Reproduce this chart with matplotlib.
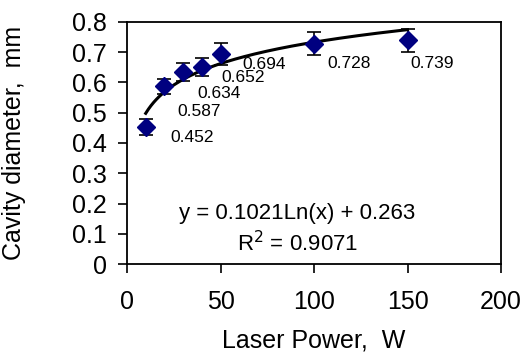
import matplotlib.pyplot as plt
import numpy as np

plt.rcParams['font.family'] = ['Liberation Sans', 'DejaVu Sans']

# Laser power (W)
power = [10, 20, 30, 40, 50, 100, 150]
# Cavity diameter (mm)
diameter = [0.452, 0.587, 0.634, 0.652, 0.694, 0.728, 0.739]
# error bar half-heights (mm)
err = [0.026, 0.026, 0.03, 0.03, 0.035, 0.038, 0.038]
labels = ['0.452', '0.587', '0.634', '0.652', '0.694', '0.728', '0.739']
# label offsets in pixels (dx, dy)
offsets = [(25, -10), (13, -25), (14, -21), (20, -11), (22, -10), (13, -20), (3, -23)]

# log trendline coefficients as printed on the chart
a = 0.1021
b = 0.263

fig = plt.figure(figsize=(5.24, 3.54), dpi=100)
ax = fig.add_axes([0.2424, 0.2542, 0.7137, 0.6837])

xf = np.linspace(power[0], power[-1], 200)
ax.plot(xf, a*np.log(xf) + b, color='black', lw=2.2, zorder=2)

ax.errorbar(power, diameter, yerr=err, fmt='D', color='#000080', ms=9.5,
            ecolor='black', elinewidth=1.2, capsize=5, capthick=1.2, zorder=3)

for x, y, s, (dx, dy) in zip(power, diameter, labels, offsets):
    ax.annotate(s, (x, y), xytext=(dx, dy), textcoords='offset pixels',
                fontsize=12.5, va='center', ha='left')

ax.text(0.455, 0.21, 'y = 0.1021Ln(x) + 0.263', transform=ax.transAxes,
        fontsize=16, ha='center', va='center')
ax.text(0.455, 0.085, r'R$^2$ = 0.9071', transform=ax.transAxes,
        fontsize=16, ha='center', va='center')

ax.set_xlim(0, 200)
ax.set_ylim(0, 0.8)
ax.set_xticks([0, 50, 100, 150, 200])
ax.set_yticks(np.arange(0, 0.81, 0.1))
ax.set_yticklabels(['0', '0.1', '0.2', '0.3', '0.4', '0.5', '0.6', '0.7', '0.8'])
ax.tick_params(labelsize=18, length=6.5, width=1.2, direction='out')
ax.tick_params(axis='x', pad=12)
ax.tick_params(axis='y', pad=8)
ax.set_xlabel('Laser Power,  W', fontsize=18)
ax.set_ylabel('Cavity diameter,  mm', fontsize=18)
ax.xaxis.set_label_coords(0.5, -0.265)
ax.yaxis.set_label_coords(-0.27, 0.5)
for sp in ax.spines.values():
    sp.set_linewidth(1.3)

plt.savefig('out.png', dpi=100)
